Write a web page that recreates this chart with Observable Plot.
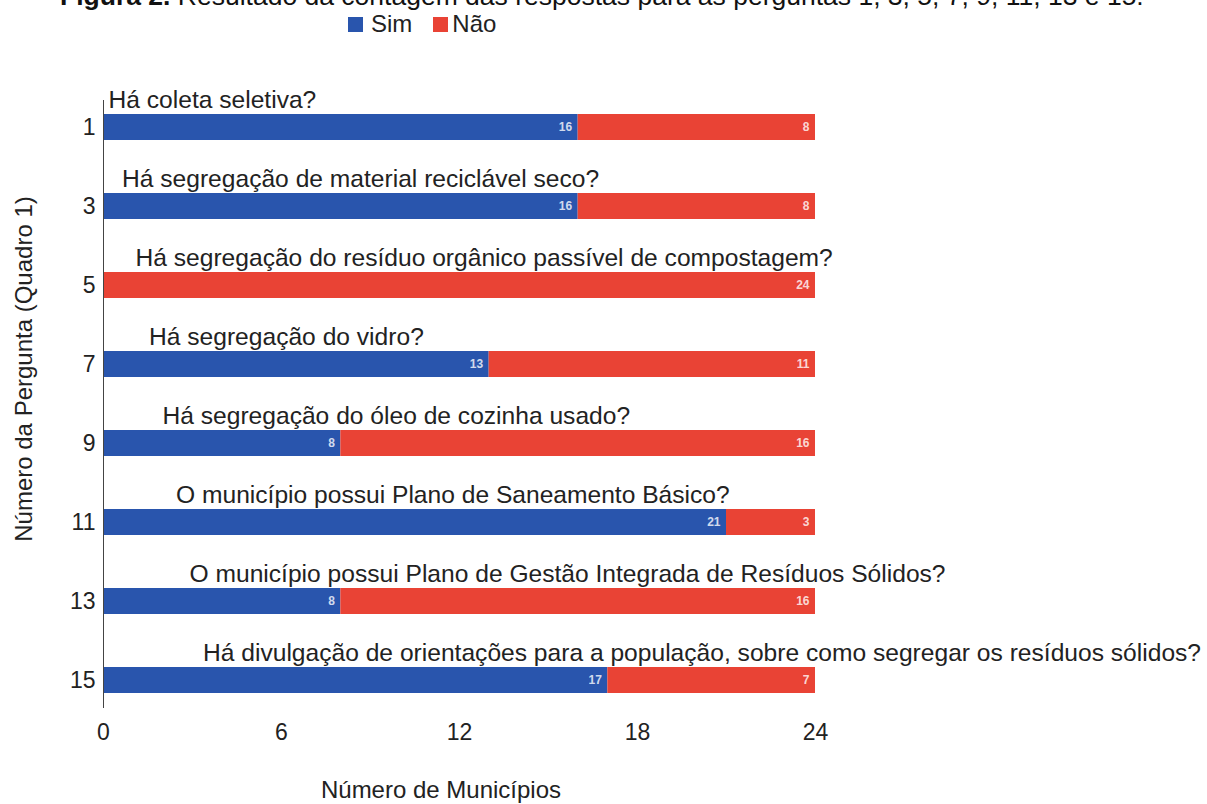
<!DOCTYPE html>
<html><head><meta charset="utf-8">
<script src="https://cdn.jsdelivr.net/npm/d3@7"></script>
<script src="https://cdn.jsdelivr.net/npm/@observablehq/plot@0.6"></script>
<style>
body{margin:0;background:#fff;font-family:"Liberation Sans",Arial,sans-serif;color:#222;overflow:hidden}
#wrap{position:relative;width:1207px;height:804px;overflow:hidden}
.abs{position:absolute;white-space:nowrap;line-height:1}
#title{top:-17px;left:60px;font-size:26.5px;color:#111}
#legend{top:12px;left:348px;font-size:24px;display:flex;align-items:center}
.sw{display:inline-block;width:15px;height:15px;margin-right:8px}
#xtitle{top:778px;left:441px;transform:translateX(-50%);font-size:24px}
#ytitle{top:369px;left:24px;transform:translate(-50%,-50%) rotate(-90deg);font-size:24px}
</style></head>
<body><div id="wrap">
<div id="title" class="abs"><b>Figura 2.</b> Resultado da contagem das respostas para as perguntas 1, 3, 5, 7, 9, 11, 13 e 15.</div>
<div id="legend" class="abs"><span class="sw" style="background:#2955ad"></span><span>Sim</span><span class="sw" style="background:#e94335;margin-left:21px;margin-right:4px"></span><span>Não</span></div>
<div id="xtitle" class="abs">Número de Municípios</div>
<div id="ytitle" class="abs">Número da Pergunta (Quadro 1)</div>
<div id="chart"></div>
</div>
<script>
const perguntas = ["1","3","5","7","9","11","13","15"];
const questoes = [
  "Há coleta seletiva?",
  "Há segregação de material reciclável seco?",
  "Há segregação do resíduo orgânico passível de compostagem?",
  "Há segregação do vidro?",
  "Há segregação do óleo de cozinha usado?",
  "O município possui Plano de Saneamento Básico?",
  "O município possui Plano de Gestão Integrada de Resíduos Sólidos?",
  "Há divulgação de orientações para a população, sobre como segregar os resíduos sólidos?"
];
const sim = [16,16,0,13,8,21,8,17];
const nao = [8,8,24,11,16,3,16,7];
const respostas = ["Sim","Não"];
const xTicks = [0,6,12,18,24];

const data = [];
perguntas.forEach((p,i)=>{
  data.push({p, r:"Sim", v:sim[i]});
  data.push({p, r:"Não", v:nao[i]});
});

const labelMarks = perguntas.map((p,i)=>Plot.text([{p, q:questoes[i]}], {
  x: () => 0, y: "p", text: "q", textAnchor: "start", lineAnchor: "middle",
  dx: 5 + i*13.5, dy: -27, fontSize: 24.6, fill: "#222"
}));

const chart = Plot.plot({
  width: 1207, height: 804,
  marginLeft: 103, marginRight: 392, marginTop: 100, marginBottom: 96,
  style: {fontFamily: '"Liberation Sans", Arial, sans-serif', background: "transparent"},
  x: {domain: [0,24], ticks: xTicks, label: null},
  y: {domain: perguntas, paddingInner: 0.67, paddingOuter: 0.17, label: null},
  color: {domain: respostas, range: ["#2955ad","#e94335"]},
  marks: [
    Plot.barX(data, Plot.stackX({x: "v", y: "p", fill: "r", order: respostas})),
    Plot.text(data, Plot.stackX2({x: "v", y: "p", z: "r", order: respostas, filter: d=>d.v>0, text: d=>String(d.v), textAnchor: "end", dx: -6, fill: "white", fillOpacity: 0.8, fontSize: 12, fontWeight: "bold"})),
    Plot.ruleX([0], {stroke: "#444", strokeWidth: 1}),
    Plot.axisY({tickSize: 0, tickPadding: 8, fontSize: 23, fill: "#222", label: null}),
    Plot.axisX({ticks: xTicks, tickSize: 0, tickPadding: 15, fontSize: 23, fill: "#222", label: null}),
    ...labelMarks
  ]
});
document.getElementById("chart").appendChild(chart);
</script>
</body></html>
